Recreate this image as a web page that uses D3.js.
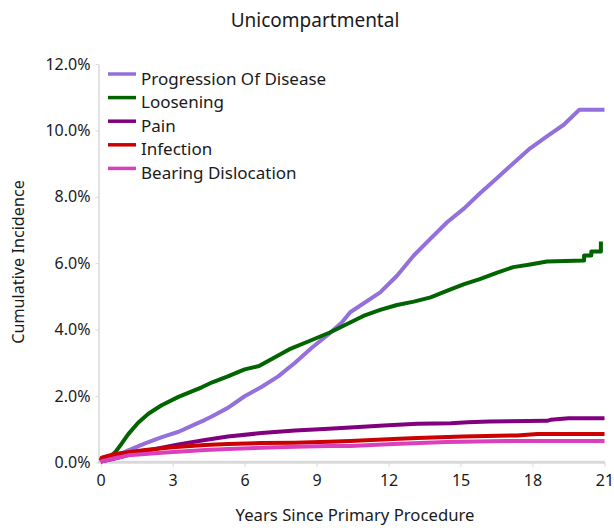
<!DOCTYPE html>
<html><head><meta charset="utf-8">
<script src="https://cdn.jsdelivr.net/npm/d3@7"></script>
<style>
body{margin:0;background:#fff}
svg text{font-family:"Noto Sans","Open Sans",sans-serif;fill:#1a1a1a}
</style>
</head><body>
<svg id="chart" width="614" height="531"></svg>
<script>
const chartTitle = "Unicompartmental";
const xTitle = "Years Since Primary Procedure";
const yTitle = "Cumulative Incidence";
const seriesNames = ["Progression Of Disease","Loosening","Pain","Infection","Bearing Dislocation"];
const seriesColors = ["#9370DB","#006400","#800080","#CC0000","#DA3FBE"];
const xTicks = [0,3,6,9,12,15,18,21];
const yTicks = [0,2,4,6,8,10,12];

const progressionT = [0,0.5,1.15,1.85,2.55,3.25,3.95,4.35,4.65,5.3,6.0,6.7,7.4,8.1,8.8,9.5,10.05,10.4,11.65,12.35,13.05,13.75,14.45,15.15,15.8,16.5,17.2,17.9,18.6,19.3,19.95,21];
const progressionV = [0.02,0.14,0.36,0.57,0.76,0.92,1.15,1.28,1.39,1.64,1.99,2.27,2.59,3.0,3.45,3.86,4.21,4.52,5.12,5.62,6.23,6.74,7.24,7.65,8.10,8.55,9.01,9.46,9.82,10.17,10.62,10.62];
const looseningT = [0,0.3,0.6,0.87,1.15,1.57,2.0,2.54,3.24,4.21,4.65,5.3,6.0,6.6,7.15,7.85,8.65,9.55,10.25,10.95,11.65,12.35,13.05,13.75,14.45,15.15,15.8,16.5,17.2,17.9,18.6,20.15,20.15,20.45,20.45,20.85,20.85];
const looseningV = [0.02,0.1,0.3,0.56,0.85,1.2,1.47,1.72,1.97,2.26,2.41,2.59,2.80,2.90,3.12,3.40,3.64,3.91,4.16,4.41,4.59,4.74,4.84,4.97,5.17,5.37,5.52,5.71,5.88,5.96,6.05,6.08,6.23,6.23,6.35,6.35,6.65];
const painT = [0,0.5,1.15,1.85,3.24,4.35,5.3,6.7,8.1,9.5,10.4,11.8,13.2,14.6,15.3,16.2,18.6,18.75,19.5,21];
const painV = [0.02,0.1,0.22,0.34,0.54,0.67,0.78,0.88,0.96,1.01,1.05,1.11,1.16,1.18,1.21,1.23,1.25,1.28,1.33,1.33];
const infectionT = [0,0.04,0.6,1.85,3.0,4.35,5.3,6.7,8.1,9.5,10.4,12.2,13.2,15.1,17.35,18.2,21];
const infectionV = [0.05,0.14,0.25,0.37,0.45,0.52,0.55,0.58,0.59,0.62,0.645,0.70,0.73,0.78,0.81,0.85,0.85];
const bearingT = [0,0.04,0.45,1.15,2.54,4.35,5.3,6.7,8.1,9.5,10.4,12.2,14.4,16.9,21];
const bearingV = [0.0,0.03,0.1,0.21,0.29,0.37,0.40,0.44,0.47,0.49,0.49,0.55,0.61,0.645,0.645];

const seriesT = [progressionT,looseningT,painT,infectionT,bearingT];
const seriesV = [progressionV,looseningV,painV,infectionV,bearingV];

const svg = d3.select("#chart");
svg.append("rect").attr("width",614).attr("height",531).attr("fill","#fff");

const x = d3.scaleLinear().domain([0,21]).range([100.7,604.5]);
const y = d3.scaleLinear().domain([0,12]).range([462.3,64]);

// title
svg.append("text").attr("x",315).attr("y",27).attr("text-anchor","middle")
  .style("font-size","19px").text(chartTitle);

// y axis
const yAxis = svg.append("g").attr("transform","translate(98.5,0)")
  .call(d3.axisLeft(y).tickValues(yTicks).tickFormat(d=>d.toFixed(1)+"%").tickSize(3).tickSizeOuter(0).tickPadding(5));
yAxis.select(".domain").attr("stroke","#d9d9d9").attr("stroke-width",1.5);
yAxis.selectAll(".tick line").attr("stroke","#d9d9d9");
yAxis.selectAll(".tick text").style("font-size","16px").attr("fill","#1a1a1a");

// x axis
const xAxis = svg.append("g").attr("transform","translate(0,462.3)")
  .call(d3.axisBottom(x).tickValues(xTicks).tickSize(5).tickSizeOuter(0).tickPadding(7));
xAxis.select(".domain").attr("stroke","#d9d9d9").attr("stroke-width",3)
  .attr("d","M98,0H605");
xAxis.selectAll(".tick line").attr("stroke","#d9d9d9");
xAxis.selectAll(".tick text").style("font-size","16px").attr("fill","#1a1a1a");

// axis titles
svg.append("text").attr("x",355).attr("y",521).attr("text-anchor","middle")
  .style("font-size","16.7px").text(xTitle);
svg.append("text").attr("transform","translate(24,262) rotate(-90)").attr("text-anchor","middle")
  .style("font-size","16.2px").text(yTitle);

// lines
const line = d3.line().x(d=>x(d[0])).y(d=>y(d[1]));
seriesNames.forEach((name,i)=>{
  const pts = seriesT[i].map((t,j)=>[t,seriesV[i][j]]);
  svg.append("path").datum(pts).attr("d",line).attr("fill","none")
    .attr("stroke",seriesColors[i]).attr("stroke-width",4)
    .attr("stroke-linejoin","round").attr("stroke-linecap","butt");
});

// legend
const lg = svg.append("g");
seriesNames.forEach((name,i)=>{
  const yy = 74 + i*23.6;
  lg.append("line").attr("x1",108).attr("x2",136).attr("y1",yy).attr("y2",yy)
    .attr("stroke",seriesColors[i]).attr("stroke-width",3.5);
  lg.append("text").attr("x",141).attr("y",yy+10.5).style("font-size","17px").text(name);
});
</script>
</body></html>
